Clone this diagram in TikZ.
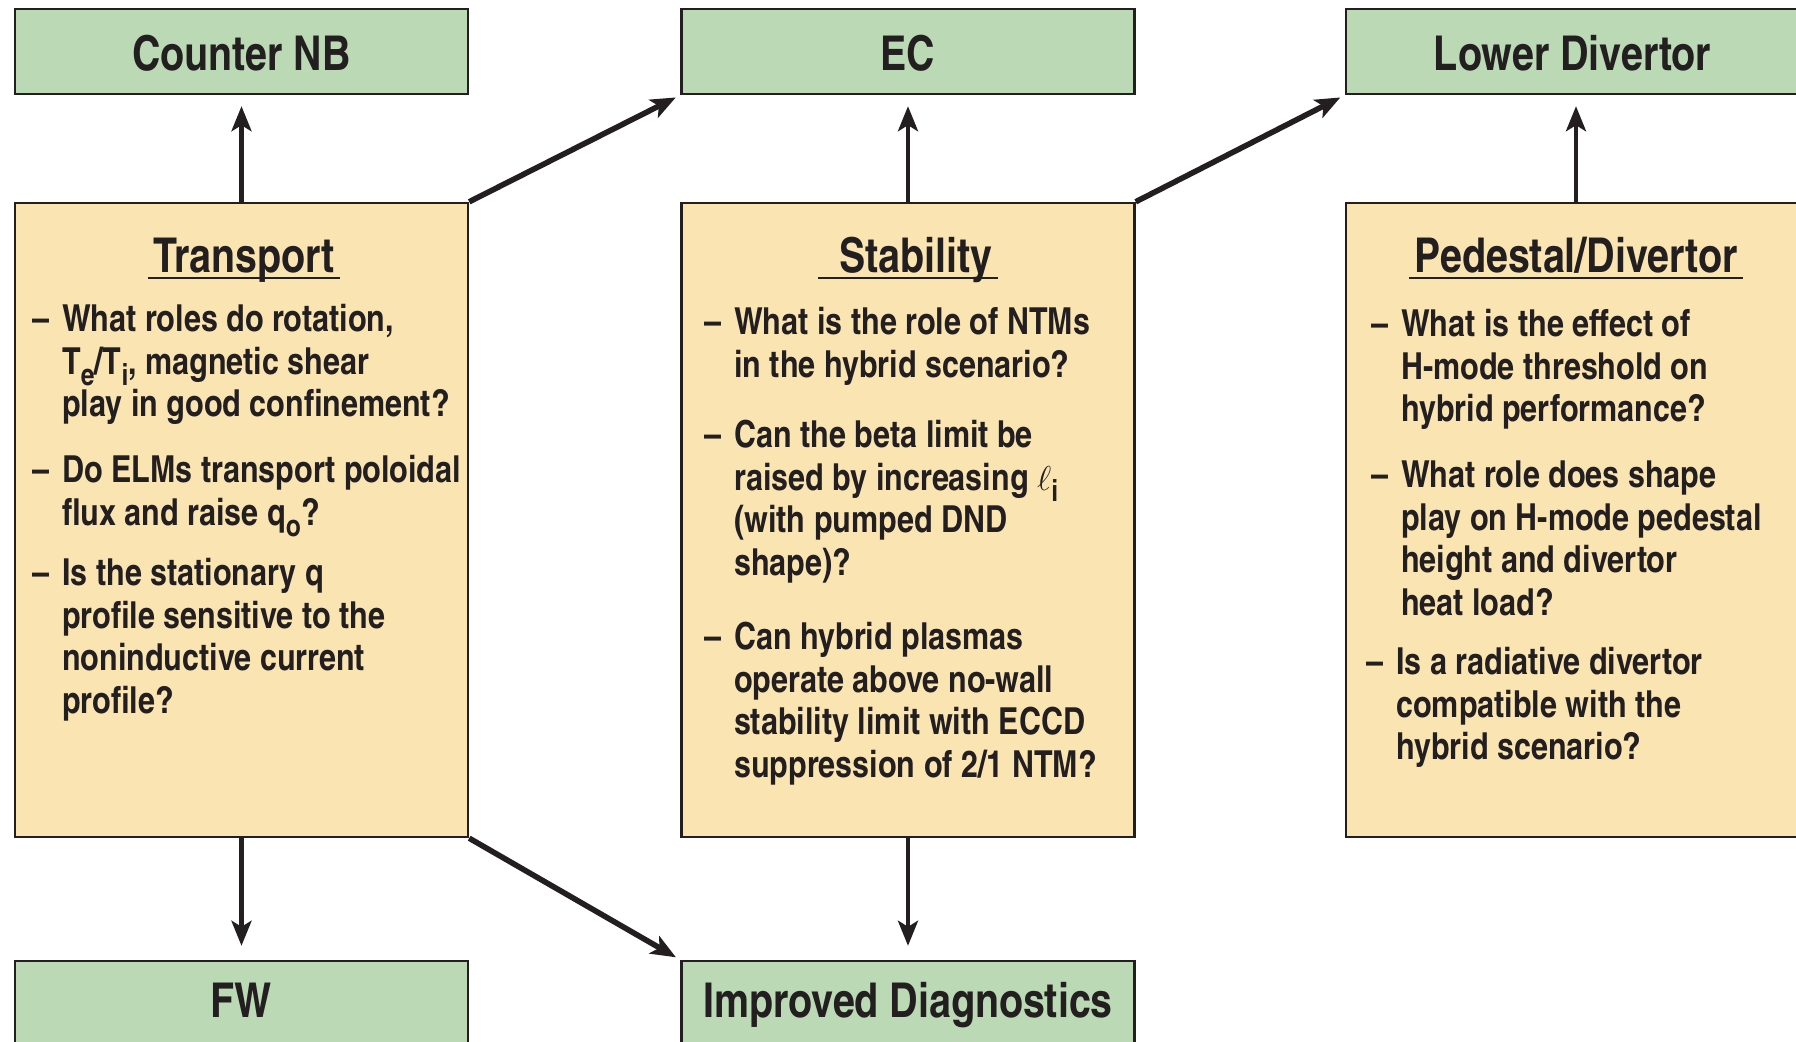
\documentclass[tikz,border=0pt]{standalone}
\usepackage{fontspec}
\setmainfont{TeX Gyre Heros Cn}
\usetikzlibrary{arrows.meta}

\definecolor{ink}{RGB}{35,31,32}
\definecolor{sage}{RGB}{187,217,181}
\definecolor{sand}{RGB}{250,229,178}

\tikzset{
	every picture/.style={line width=1.2pt},
	topic/.style={draw=ink, fill=sage, minimum width=226.5pt, minimum height=42.5pt, inner sep=0pt,
		text=ink, text height=19.5pt, text depth=0pt, font=\fontsize{24}{28}\selectfont\bfseries},
	lowtopic/.style={topic, minimum height=50pt, text depth=12.5pt},
	area/.style={draw=ink, fill=sand, minimum width=226.5pt, minimum height=317pt, inner sep=0pt},
	areatitle/.style={anchor=base, inner xsep=2pt, inner ysep=0pt, text=ink, font=\fontsize{24}{28}\selectfont\bfseries},
	uline/.style={draw=ink, line width=1pt},
	question/.style={anchor=base west, inner sep=0pt, text=ink, font=\fontsize{18.6}{21.25}\selectfont\bfseries},
	flow/.style={draw=ink, line width=2.2pt, -{Stealth[length=12.5pt,width=10pt,inset=3pt]}},
	slant/.style={flow, line width=2.8pt}
}
\newcommand{\qlist}[1]{\begin{tabular}[t]{@{}p{15pt}@{}l@{}}#1\end{tabular}}
\newcommand{\lowsub}[1]{\raisebox{-5.5pt}{\fontsize{15}{15}\selectfont #1}}

\begin{document}
\begin{tikzpicture}[x=0.5pt,y=0.5pt,yscale=-1,xscale=1]
	\useasboundingbox (0,0) rectangle (1796,1042);
	
	% Green boxes
	\node [topic] (cnb) at (241.5,51.5) {Counter NB};
	\node [topic] (ec) at (908,51.5) {EC};
	\node [topic] (ldiv) at (1572.5,51.5) {Lower Divertor};
	\node [lowtopic] (fw) at (241.5,1011) {FW};
	\node [lowtopic] (diag) at (908,1011) {Improved Diagnostics};
	
	% Yellow boxes
	\node [area] (trans) at (241.5,520) {};
	\node [area] (stab) at (908,520) {};
	\node [area] (ped) at (1572.5,520) {};
	
	% Titles
	\node [areatitle] (ttrans) at (244,273) {Transport};
	\node [areatitle] (tstab) at (908,273) {\hspace{8pt}Stability\hspace{8pt}};
	\node [areatitle] (tped) at (1576,273) {Pedestal/Divertor};
	\draw [uline] ([yshift=2.5pt]ttrans.base west) -- ([yshift=2.5pt]ttrans.base east);
	\draw [uline] ([yshift=2.5pt]tstab.base west) -- ([yshift=2.5pt]tstab.base east);
	\draw [uline] ([yshift=2.5pt]tped.base west) -- ([yshift=2.5pt]tped.base east);
	
	% Transport questions
	\node [question] (tq1) at (31,332) {\qlist{--&What roles do rotation,\\ &T\lowsub{e}/T\lowsub{i}, magnetic shear\\ &play in good confinement?}};
	\node [question] (tq2) at (31,483) {\qlist{--&Do ELMs transport poloidal\\ &flux and raise q\lowsub{o}?}};
	\node [question] (tq3) at (31,586) {\qlist{--&Is the stationary q\\ &profile sensitive to the\\ &noninductive current\\ &profile?}};
	
	% Stability questions
	\node [question] (sq1) at (703,335) {\qlist{--&What is the role of NTMs\\ &in the hybrid scenario?}};
	\node [question] (sq2) at (703,448) {\qlist{--&Can the beta limit be\\ &raised by increasing {\mdseries$\ell$}\lowsub{i}\\ &(with pumped DND\\ &shape)?}};
	\node [question] (sq3) at (703,650) {\qlist{--&Can hybrid plasmas\\ &operate above no-wall\\ &stability limit with ECCD\\ &suppression of 2/1 NTM?}};
	
	% Pedestal/Divertor questions
	\node [question] (pq1) at (1370,337) {\qlist{--&What is the effect of\\ &H-mode threshold on\\ &hybrid performance?}};
	\node [question] (pq2) at (1370,488) {\qlist{--&What role does shape\\ &play on H-mode pedestal\\ &height and divertor\\ &heat load?}};
	\node [question] (pq3) at (1365,675) {\qlist{--&Is a radiative divertor\\ &compatible with the\\ &hybrid scenario?}};
	
	% Arrows
	\draw [flow, shorten >=5.5pt] (trans.north) -- (cnb.south);
	\draw [flow, shorten >=5.5pt] (stab.north) -- (ec.south);
	\draw [flow, shorten >=5.5pt] ([xshift=1.75pt]ped.north) -- ([xshift=1.75pt]ldiv.south);
	\draw [flow, shorten >=7pt] (trans.south) -- (fw.north);
	\draw [flow, shorten >=7pt] (stab.south) -- (diag.north);
	\draw [slant, shorten >=2.5pt] (trans.north east) -- (ec.south west);
	\draw [slant, shorten >=2.5pt] (stab.north east) -- (ldiv.south west);
	\draw [slant, shorten >=2.5pt] (trans.south east) -- (diag.north west);
	
\end{tikzpicture}
\end{document}
